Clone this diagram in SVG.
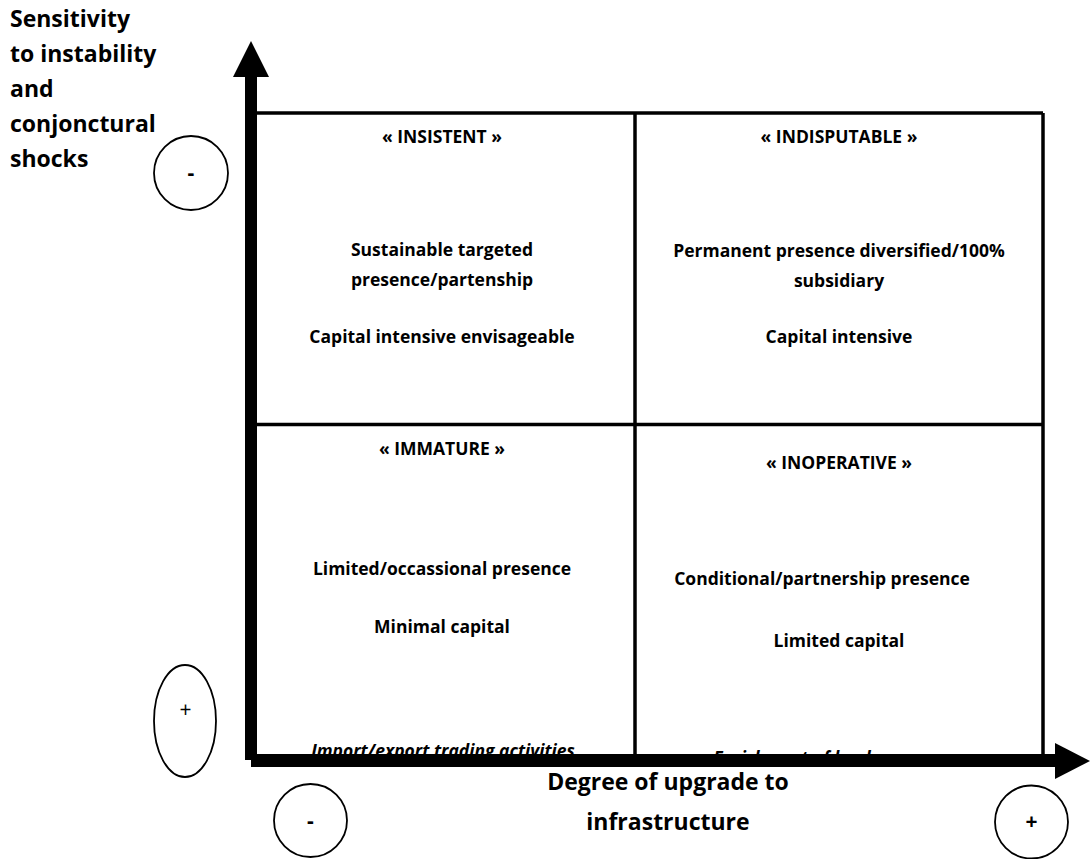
<svg xmlns="http://www.w3.org/2000/svg" width="1092" height="859" viewBox="0 0 1092 859">
<style>
  text { font-family: "Open Sans", "Liberation Sans", sans-serif; font-weight: bold; fill: #000; }
  .axis { font-size: 23px; }
  .q { font-size: 17.5px; text-anchor: middle; }
  .it { font-style: italic; }
  .sign { font-size: 21px; text-anchor: middle; }
  .circ { fill: #fff; stroke: #000; stroke-width: 1.8; }
  .grid { stroke: #000; stroke-width: 3.5; fill: none; }
</style>
<defs>
  <clipPath id="clipQ3"><rect x="258" y="426" width="376" height="328"/></clipPath>
  <clipPath id="clipQ4"><rect x="637" y="426" width="404" height="328"/></clipPath>
</defs>
<rect width="1092" height="859" fill="#fff"/>

<g id="ylabel">
  <text class="axis" x="10" y="27">Sensitivity</text>
  <text class="axis" x="10" y="62">to instability</text>
  <text class="axis" x="10" y="97">and</text>
  <text class="axis" x="10" y="132">conjonctural</text>
  <text class="axis" x="10" y="167">shocks</text>
</g>

<g id="grid">
  <line class="grid" x1="255" y1="113" x2="1043" y2="113"/>
  <line class="grid" x1="1043" y1="113" x2="1043" y2="756"/>
  <line class="grid" x1="635" y1="113" x2="635" y2="756"/>
  <line class="grid" x1="255" y1="424.5" x2="1043" y2="424.5"/>
</g>

<g id="q-insistent">
  <text class="q" x="442" y="143">« INSISTENT »</text>
  <text class="q" x="442" y="256">Sustainable targeted</text>
  <text class="q" x="442" y="286">presence/partenship</text>
  <text class="q" x="442" y="343">Capital intensive envisageable</text>
</g>

<g id="q-indisputable">
  <text class="q" x="839" y="143">« INDISPUTABLE »</text>
  <text class="q" x="839" y="257">Permanent presence diversified/100%</text>
  <text class="q" x="839" y="287">subsidiary</text>
  <text class="q" x="839" y="343">Capital intensive</text>
</g>

<g id="q-immature">
  <text class="q" x="442" y="455">« IMMATURE »</text>
  <text class="q" x="442" y="575">Limited/occassional presence</text>
  <text class="q" x="442" y="633">Minimal capital</text>
  <g clip-path="url(#clipQ3)">
    <text class="q it" x="443" y="757">Import/export trading activities</text>
  </g>
</g>

<g id="q-inoperative">
  <text class="q" x="839" y="469">« INOPERATIVE »</text>
  <text class="q" x="822" y="585">Conditional/partnership presence</text>
  <text class="q" x="839" y="647">Limited capital</text>
  <g clip-path="url(#clipQ4)">
    <text class="q it" x="792" y="764">Enrichment of land</text>
  </g>
</g>

<g id="axes">
  <rect x="245" y="76" width="12" height="684" fill="#000"/>
  <polygon points="251,41 233,77 269,77" fill="#000"/>
  <rect x="251" y="754" width="805" height="13" fill="#000"/>
  <polygon points="1055,743 1090,761 1055,779" fill="#000"/>
</g>

<g id="xlabel">
  <text class="axis" x="668" y="790" text-anchor="middle">Degree of upgrade to</text>
  <text class="axis" x="668" y="830" text-anchor="middle">infrastructure</text>
</g>

<g id="sign-top-minus">
  <circle class="circ" cx="191" cy="173" r="37"/>
  <text class="sign" x="191" y="180">-</text>
</g>
<g id="sign-left-plus">
  <ellipse class="circ" cx="185" cy="721" rx="31" ry="56"/>
  <text class="sign" x="185.5" y="717" style="font-weight:normal">+</text>
</g>
<g id="sign-bottom-minus">
  <circle class="circ" cx="310.5" cy="820.5" r="36.5"/>
  <text class="sign" x="310.5" y="828">-</text>
</g>
<g id="sign-right-plus">
  <circle class="circ" cx="1031.5" cy="822" r="36.5"/>
  <text class="sign" x="1031.5" y="829">+</text>
</g>
</svg>
